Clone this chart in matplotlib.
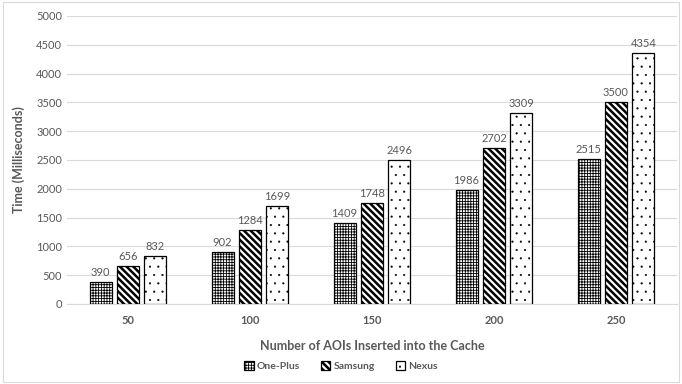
import matplotlib.pyplot as plt
import numpy as np
from matplotlib.patches import Rectangle

plt.rcParams['font.family'] = ['Lato', 'DejaVu Sans']
plt.rcParams['hatch.linewidth'] = 0.8

categories = ['50', '100', '150', '200', '250']
one_plus = [390, 902, 1409, 1986, 2515]
samsung = [656, 1284, 1748, 2702, 3500]
nexus = [832, 1699, 2496, 3309, 4354]

# name, values, hatch pattern, hatch line width
series = [('One-Plus', one_plus, '++++++', 0.6),
          ('Samsung', samsung, '\\\\\\\\\\', 1.8),
          ('Nexus', nexus, '..', 0.3)]

gray = '#595959'

fig = plt.figure(figsize=(6.82, 3.84), dpi=100)
ax = fig.add_axes([67 / 682, 1 - 304 / 384, 610 / 682, 288 / 384])

x = np.arange(len(categories))
width = 0.18
step = 0.225

for i, (name, vals, hatch, hlw) in enumerate(series):
    pos = x + (i - 1) * step
    bars = ax.bar(pos, vals, width, color='white', edgecolor='black',
                  hatch=hatch, linewidth=0.9, label=name, zorder=3)
    for b, v in zip(bars, vals):
        b.set_hatch_linewidth(hlw)
        ax.text(b.get_x() + b.get_width() / 2, v + 70, str(v),
                ha='center', va='bottom', fontsize=8, color=gray)

ax.set_xlim(-0.5, len(categories) - 0.5)
ax.set_ylim(0, 5000)
ax.set_yticks(np.arange(0, 5001, 500))
ax.set_xticks(x)
ax.set_xticklabels(categories, fontweight='bold')
ax.tick_params(axis='both', length=0, colors=gray, labelsize=8)
ax.tick_params(axis='x', pad=8)
ax.grid(axis='y', color='#d9d9d9', linewidth=0.8, zorder=0)
for s in ax.spines.values():
    s.set_visible(False)
ax.spines['bottom'].set_visible(True)
ax.spines['bottom'].set_color('#d9d9d9')

ax.set_ylabel('Time (Milliseconds)', fontsize=9, fontweight='bold', color=gray, labelpad=8)
ax.set_xlabel('Number of AOIs Inserted into the Cache', fontsize=9,
              fontweight='bold', color=gray, labelpad=10)

leg = fig.legend(loc='center', bbox_to_anchor=(0.5, 1 - 366 / 384), ncol=3,
                 frameon=False, fontsize=7.5, handlelength=0.9, handleheight=0.9,
                 columnspacing=2.0, handletextpad=0.3)
for t in leg.get_texts():
    t.set_color(gray)
    t.set_fontweight('bold')
for h, (_, _, _, hlw) in zip(leg.legend_handles, series):
    h.set_hatch_linewidth(hlw)

fig.patches.append(Rectangle((0.004, 0.004), 0.992, 0.992, transform=fig.transFigure,
                             fill=False, edgecolor='#d9d9d9', linewidth=0.8))

fig.savefig('out.png', dpi=100)
